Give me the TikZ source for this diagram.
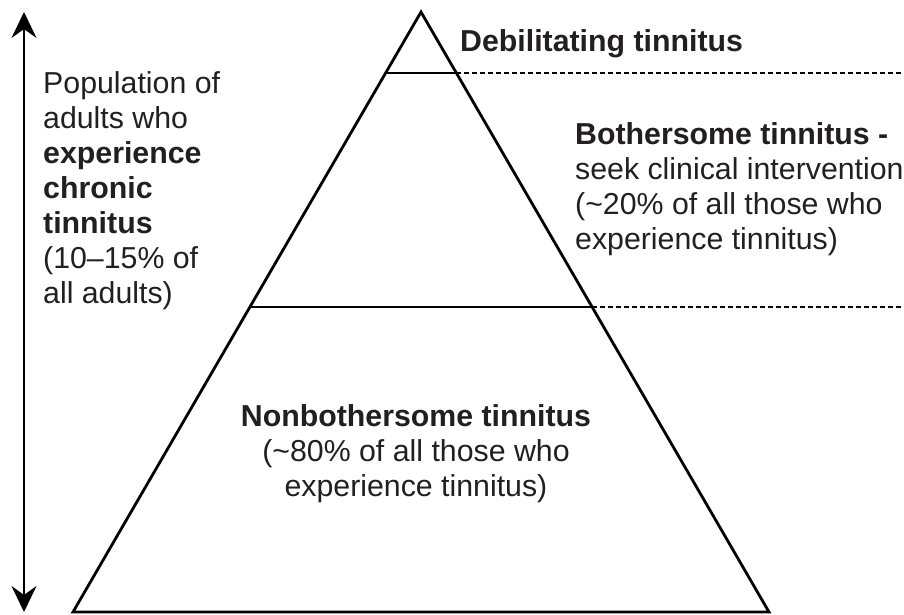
\documentclass[tikz,border=0pt]{standalone}
\usepackage{fontspec}
\setmainfont{Liberation Sans}
\usetikzlibrary{arrows.meta,calc}
\definecolor{txtcolor}{RGB}{35,31,32}
\tikzset{
  pyrline/.style  = {line width=2.8pt, draw=black, line join=miter},
  lvlline/.style  = {line width=2.8pt, draw=black},
  sepline/.style  = {line width=1.6pt, draw=black, dash pattern=on 4.5pt off 3.5pt},
  poparrow/.style = {>={Stealth[length=26pt,width=25pt,inset=9pt]}, <->, line width=2.8pt},
  lbl/.style      = {inner sep=0pt, text=txtcolor, font=\fontsize{30.3}{35}\selectfont, align=left},
  clbl/.style     = {lbl, align=center}
}
\begin{document}
\begin{tikzpicture}[x=1pt,y=-1pt]
\useasboundingbox (0,0) rectangle (904,614);

% --- pyramid corners ---
\coordinate (apex) at (421,12);
\coordinate (bl) at (73,612);
\coordinate (br) at (769,612);
\draw[pyrline] (apex) -- (bl) -- (br) -- cycle;

% --- level lines, solid inside, dashed to the right ---
\foreach \t/\n in {0.1017/1, 0.4917/2}{
  \coordinate (l\n) at ($(apex)!\t!(bl)$);
  \coordinate (r\n) at ($(apex)!\t!(br)$);
  \coordinate (e\n) at ($(r\n)+(460,0)$);
  \draw[lvlline] (l\n) -- (r\n);
  \draw[sepline] (r\n) -- (e\n);
}

% --- population arrow ---
\coordinate (atop) at (24,12);
\coordinate (abot) at (24,612);
\draw[poparrow] (atop) -- (abot);

% --- labels ---
\node[lbl, anchor=north west] (poplbl) at (43,71)
  {Population of\\adults who\\\textbf{experience}\\\textbf{chronic}\\\textbf{tinnitus}\\(10--15\% of\\all adults)};
\node[lbl, anchor=north west] (deblbl) at (460,29) {\textbf{Debilitating tinnitus}};
\node[lbl, anchor=north west] (botlbl) at (575,122)
  {\textbf{Bothersome tinnitus -}\\seek clinical intervention\\(\textasciitilde20\% of all those who\\experience tinnitus)};
\node[clbl, anchor=north] (nonlbl) at (416,404)
  {\textbf{Nonbothersome tinnitus}\\(\textasciitilde80\% of all those who\\experience tinnitus)};

\end{tikzpicture}
\end{document}
